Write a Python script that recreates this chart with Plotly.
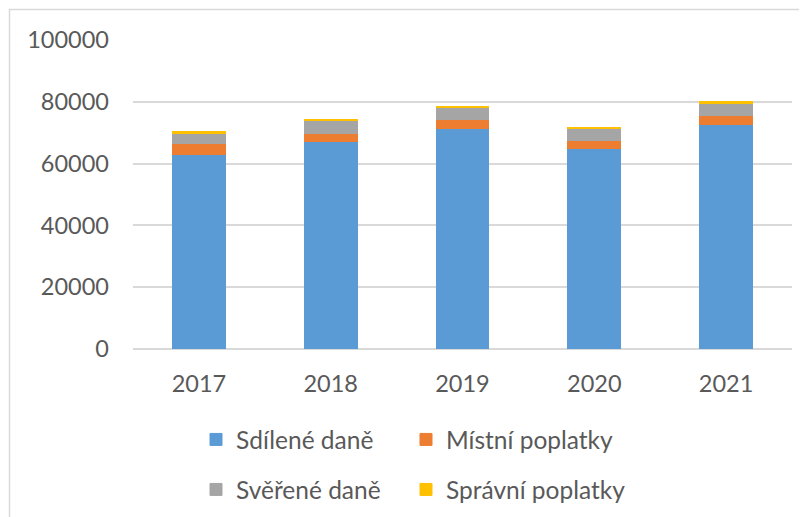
import plotly.graph_objects as go

years = ["2017", "2018", "2019", "2020", "2021"]
sdilene = [63100, 67000, 71500, 65000, 72600]
mistni = [3400, 2900, 2800, 2600, 3100]
sverene = [3300, 3900, 3700, 3900, 3900]
spravni = [600, 500, 600, 250, 400]

series_names = ["Sdílené daně", "Místní poplatky", "Svěřené daně", "Správní poplatky"]
colors = ["#5B9BD5", "#ED7D31", "#A5A5A5", "#FFC000"]
legend_ids = ["legend", "legend2", "legend3", "legend4"]

# page body has an 8px margin; figure coordinates are screen - 8
OFF = 8
W, H = 807, 517
L, R, T, B = 125, 23, 32, 176

fig = go.Figure()
for name, vals, col, lg in zip(series_names, [sdilene, mistni, sverene, spravni], colors, legend_ids):
    fig.add_trace(go.Bar(
        x=years, y=vals, name=name, legend=lg, showlegend=True,
        marker=dict(color=col, line=dict(color=col, width=1)),
    ))

font_family = "Lato, 'Open Sans', sans-serif"
text_col = "#595959"

def cx(px):
    return (px - OFF) / W

def cy(py):
    return 1 - (py - OFF) / H

legend_common = dict(
    orientation="h", xref="container", yref="container",
    xanchor="left", yanchor="middle",
    font=dict(family=font_family, size=24.5, color=text_col),
    bgcolor="rgba(0,0,0,0)",
)

fig.update_layout(
    width=W, height=H,
    showlegend=True,
    margin=dict(l=L, r=R, t=T, b=B),
    barmode="stack", bargap=0.6,
    paper_bgcolor="white", plot_bgcolor="white",
    font=dict(family=font_family, size=23.5, color=text_col),
    legend=dict(x=cx(196), y=cy(439.5), **legend_common),
    legend2=dict(x=cx(406), y=cy(439.5), **legend_common),
    legend3=dict(x=cx(196), y=cy(489.5), **legend_common),
    legend4=dict(x=cx(406), y=cy(489.5), **legend_common),
    xaxis=dict(showgrid=False, showline=False, ticks="", ticklabelstandoff=18,
               tickfont=dict(family=font_family, size=23.5, color=text_col)),
    yaxis=dict(range=[0, 100000], dtick=20000, showgrid=True, gridcolor="#D9D9D9",
               gridwidth=1.5, zeroline=True, zerolinecolor="#D9D9D9", zerolinewidth=1.5,
               showline=False, ticks="", ticklabelstandoff=23, tickformat="d",
               tickfont=dict(family=font_family, size=23.5, color=text_col)),
    shapes=[dict(type="rect", xref="paper", yref="paper", layer="below",
                 x0=(9.5 - OFF - L) / (W - L - R), x1=(W + 20 - L) / (W - L - R),
                 y0=((H - B) - (H + 20)) / (H - T - B), y1=((H - B) - (9.5 - OFF)) / (H - T - B),
                 line=dict(color="#D9D9D9", width=1.5), fillcolor="rgba(0,0,0,0)")],
)

fig.write_html("out.html")
